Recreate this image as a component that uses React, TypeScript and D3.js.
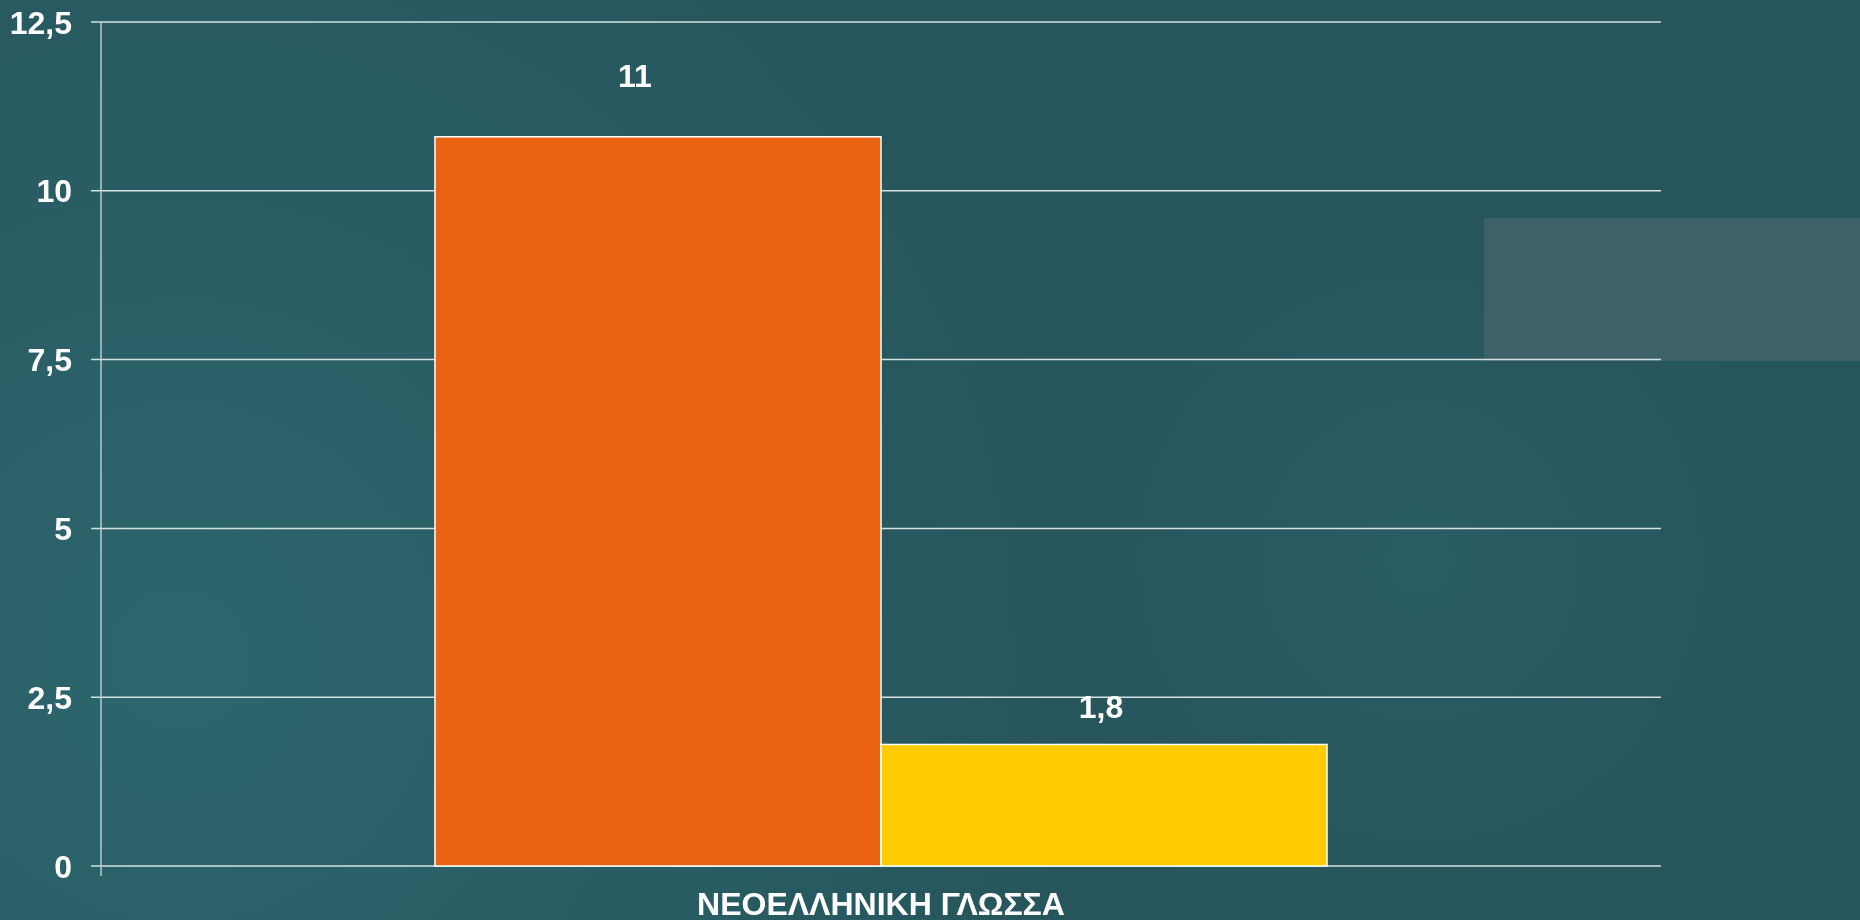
import React from "react";
import * as d3 from "d3";

const categories = ["ΝΕΟΕΛΛΗΝΙΚΗ ΓΛΩΣΣΑ"];
const seriesNames = ["A", "B"];
const seriesValues = [10.8, 1.8];
const seriesLabels = ["11", "1,8"];
const seriesColors = ["#EA6312", "#FFCC00"];
const yTicks = [0, 2.5, 5, 7.5, 10, 12.5];
const yTickLabels = ["0", "2,5", "5", "7,5", "10", "12,5"];

const W = 1860;
const H = 920;
const M = { left: 101, right: 1661, top: 22, bottom: 866 };
const LABEL_NUDGE = [
  { dx: -23, dy: -50 },
  { dx: -3, dy: -26 },
];

export default function App() {
  const y = d3.scaleLinear().domain([0, 12.5]).range([M.bottom, M.top]);
  const x0 = d3.scaleBand().domain(categories).range([M.left, M.right]).paddingInner(0).paddingOuter(0.3744);
  const x1 = d3.scaleBand().domain(seriesNames).range([0, x0.bandwidth()]).padding(0);
  const font = "'Liberation Sans', Arial, sans-serif";
  const grid = "#D5E2E3";

  return (
    <div style={{ position: "fixed", left: 0, top: 0 }}>
      <svg width={W} height={H} style={{ display: "block" }}>
        <defs>
          <radialGradient id="bg1" cx="180" cy="660" r="900" gradientUnits="userSpaceOnUse">
            <stop offset="0" stopColor="#2D666E" />
            <stop offset="0.6" stopColor="#295C63" />
            <stop offset="1" stopColor="#27555C" />
          </radialGradient>
          <radialGradient id="bg2" cx="1420" cy="560" r="420" gradientUnits="userSpaceOnUse">
            <stop offset="0" stopColor="#2C6068" stopOpacity="0.8" />
            <stop offset="1" stopColor="#27575E" stopOpacity="0" />
          </radialGradient>
        </defs>
        <rect x={0} y={0} width={W} height={H} fill="url(#bg1)" />
        <rect x={0} y={0} width={W} height={H} fill="url(#bg2)" />
        <rect x={1484} y={218} width={376} height={143} fill="#3C6168" />

        {yTicks.map((t, i) => (
          <g key={t}>
            <line x1={M.left - 10} x2={M.right} y1={y(t)} y2={y(t)} stroke={grid} strokeWidth={1.5} />
            <text
              x={72}
              y={y(t)}
              dy="0.36em"
              textAnchor="end"
              fill="#FFFFFF"
              fontFamily={font}
              fontWeight="bold"
              fontSize={32}
            >
              {yTickLabels[i]}
            </text>
          </g>
        ))}
        <line x1={M.left} x2={M.left} y1={M.top} y2={M.bottom + 10} stroke="#B9CBCD" strokeWidth={1.5} />

        {categories.map((c) => (
          <g key={c} transform={`translate(${x0(c)},0)`}>
            {seriesNames.map((s, i) => {
              const v = seriesValues[i];
              const bx = x1(s) as number;
              const bw = x1.bandwidth();
              return (
                <g key={s}>
                  <rect
                    x={bx}
                    y={y(v)}
                    width={bw}
                    height={y(0) - y(v)}
                    fill={seriesColors[i]}
                    stroke="#FFFFFF"
                    strokeWidth={1.5}
                  />
                  <text
                    x={bx + bw / 2 + LABEL_NUDGE[i].dx}
                    y={y(v) + LABEL_NUDGE[i].dy}
                    textAnchor="middle"
                    fill="#FFFFFF"
                    fontFamily={font}
                    fontWeight="bold"
                    fontSize={32}
                  >
                    {seriesLabels[i]}
                  </text>
                </g>
              );
            })}
            <text
              x={x0.bandwidth() / 2}
              y={915}
              textAnchor="middle"
              fill="#FFFFFF"
              fontFamily={font}
              fontWeight="bold"
              fontSize={32}
            >
              {c}
            </text>
          </g>
        ))}
      </svg>
    </div>
  );
}
